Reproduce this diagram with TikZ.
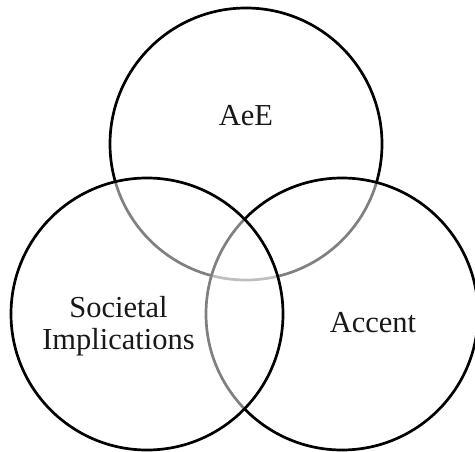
\documentclass[tikz,border=0pt]{standalone}
\usepackage{fontspec}
\setmainfont{Liberation Serif}
\begin{document}
\begin{tikzpicture}[x=1pt, y=-1pt,
  ring/.style={circle, draw=black, line width=2.7pt, fill=white,
    fill opacity=0.5, draw opacity=1, minimum size=272pt, inner sep=0pt},
  tag/.style={font=\fontsize{30.5}{32}\selectfont, align=center, text=black!90, inner sep=0pt}]
  \useasboundingbox (0,0) rectangle (475,452);
  % circles, each veiling the outlines beneath it
  \node[ring] (aee) at (246,144) {};
  \node[ring] (acc) at (342,314) {};
  \node[ring] (soc) at (147,314) {};
  % labels
  \node[tag, anchor=base] (taee) at (246,126) {AeE};
  \node[tag, anchor=base] (tacc) at (373,333) {Accent};
  \node[tag, anchor=center] (tsoc) at (118.5,326) {Societal\\Implications};
\end{tikzpicture}
\end{document}
